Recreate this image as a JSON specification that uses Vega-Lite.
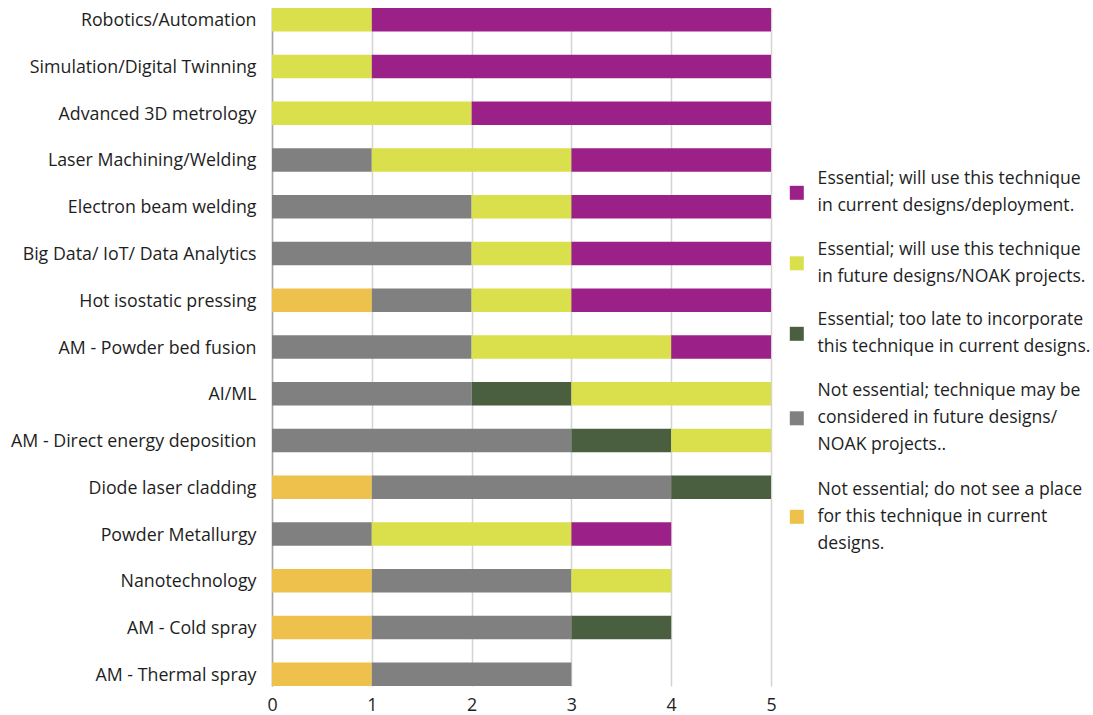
{
  "$schema": "https://vega.github.io/schema/vega-lite/v6.json",
  "width": 499,
  "height": 678,
  "autosize": {"type": "none"},
  "padding": {"left": 272, "top": 8, "right": 322, "bottom": 29},
  "background": "white",
  "config": {
    "view": {"stroke": null},
    "font": "Open Sans",
    "axis": {"labelFont": "Open Sans", "labelColor": "#1e1e1e", "labelFontSize": 17.8},
    "legend": {"labelFont": "Open Sans", "labelColor": "#1e1e1e", "labelFontSize": 17.6},
    "style": {"guide-label": {"lineHeight": 27}}
  },
  "datasets": {
    "responses": [
      {"level": 5, "response": "Essential; will use this technique\nin current designs/deployment."},
      {"level": 4, "response": "Essential; will use this technique\nin future designs/NOAK projects."},
      {"level": 3, "response": "Essential; too late to incorporate\nthis technique in current designs."},
      {"level": 2, "response": "Not essential; technique may be\nconsidered in future designs/\nNOAK projects.."},
      {"level": 1, "response": "Not essential; do not see a place\nfor this technique in current\ndesigns."}
    ],
    "counts": [
      {"technique": "Robotics/Automation", "level": 4, "count": 1},
      {"technique": "Robotics/Automation", "level": 5, "count": 4},
      {"technique": "Simulation/Digital Twinning", "level": 4, "count": 1},
      {"technique": "Simulation/Digital Twinning", "level": 5, "count": 4},
      {"technique": "Advanced 3D metrology", "level": 4, "count": 2},
      {"technique": "Advanced 3D metrology", "level": 5, "count": 3},
      {"technique": "Laser Machining/Welding", "level": 2, "count": 1},
      {"technique": "Laser Machining/Welding", "level": 4, "count": 2},
      {"technique": "Laser Machining/Welding", "level": 5, "count": 2},
      {"technique": "Electron beam welding", "level": 2, "count": 2},
      {"technique": "Electron beam welding", "level": 4, "count": 1},
      {"technique": "Electron beam welding", "level": 5, "count": 2},
      {"technique": "Big Data/ IoT/ Data Analytics", "level": 2, "count": 2},
      {"technique": "Big Data/ IoT/ Data Analytics", "level": 4, "count": 1},
      {"technique": "Big Data/ IoT/ Data Analytics", "level": 5, "count": 2},
      {"technique": "Hot isostatic pressing", "level": 1, "count": 1},
      {"technique": "Hot isostatic pressing", "level": 2, "count": 1},
      {"technique": "Hot isostatic pressing", "level": 4, "count": 1},
      {"technique": "Hot isostatic pressing", "level": 5, "count": 2},
      {"technique": "AM - Powder bed fusion", "level": 2, "count": 2},
      {"technique": "AM - Powder bed fusion", "level": 4, "count": 2},
      {"technique": "AM - Powder bed fusion", "level": 5, "count": 1},
      {"technique": "AI/ML", "level": 2, "count": 2},
      {"technique": "AI/ML", "level": 3, "count": 1},
      {"technique": "AI/ML", "level": 4, "count": 2},
      {"technique": "AM - Direct energy deposition", "level": 2, "count": 3},
      {"technique": "AM - Direct energy deposition", "level": 3, "count": 1},
      {"technique": "AM - Direct energy deposition", "level": 4, "count": 1},
      {"technique": "Diode laser cladding", "level": 1, "count": 1},
      {"technique": "Diode laser cladding", "level": 2, "count": 3},
      {"technique": "Diode laser cladding", "level": 3, "count": 1},
      {"technique": "Powder Metallurgy", "level": 2, "count": 1},
      {"technique": "Powder Metallurgy", "level": 4, "count": 2},
      {"technique": "Powder Metallurgy", "level": 5, "count": 1},
      {"technique": "Nanotechnology", "level": 1, "count": 1},
      {"technique": "Nanotechnology", "level": 2, "count": 2},
      {"technique": "Nanotechnology", "level": 4, "count": 1},
      {"technique": "AM - Cold spray", "level": 1, "count": 1},
      {"technique": "AM - Cold spray", "level": 2, "count": 2},
      {"technique": "AM - Cold spray", "level": 3, "count": 1},
      {"technique": "AM - Thermal spray", "level": 1, "count": 1},
      {"technique": "AM - Thermal spray", "level": 2, "count": 2}
    ]
  },
  "data": {"name": "counts"},
  "transform": [
    {"lookup": "level", "from": {"data": {"name": "responses"}, "key": "level", "fields": ["response"]}}
  ],
  "mark": {"type": "bar"},
  "encoding": {
    "y": {
      "field": "technique",
      "type": "nominal",
      "sort": [
        "Robotics/Automation", "Simulation/Digital Twinning", "Advanced 3D metrology",
        "Laser Machining/Welding", "Electron beam welding", "Big Data/ IoT/ Data Analytics",
        "Hot isostatic pressing", "AM - Powder bed fusion", "AI/ML",
        "AM - Direct energy deposition", "Diode laser cladding", "Powder Metallurgy",
        "Nanotechnology", "AM - Cold spray", "AM - Thermal spray"
      ],
      "scale": {"paddingInner": 0.5, "paddingOuter": 0},
      "axis": {
        "title": null,
        "ticks": false,
        "labelPadding": 16,
        "labelOffset": 1.5,
        "labelLimit": 0,
        "domainColor": "#a6a6a6",
        "domainWidth": 1.5
      }
    },
    "x": {
      "field": "count",
      "type": "quantitative",
      "stack": "zero",
      "scale": {"domain": [0, 5], "nice": false},
      "axis": {
        "title": null,
        "values": [0, 1, 2, 3, 4, 5],
        "format": "d",
        "ticks": false,
        "domain": false,
        "labelFlush": false,
        "gridColor": "#d4d4d4",
        "gridWidth": 1.5,
        "labelPadding": 10
      }
    },
    "color": {
      "field": "response",
      "type": "nominal",
      "scale": {
        "domain": [
          "Essential; will use this technique\nin current designs/deployment.",
          "Essential; will use this technique\nin future designs/NOAK projects.",
          "Essential; too late to incorporate\nthis technique in current designs.",
          "Not essential; technique may be\nconsidered in future designs/\nNOAK projects..",
          "Not essential; do not see a place\nfor this technique in current\ndesigns."
        ],
        "range": ["#9b2189", "#d9e04b", "#4a5f40", "#808080", "#edc14b"]
      },
      "legend": {
        "title": null,
        "orient": "none",
        "legendX": 516,
        "legendY": 176,
        "padding": 0,
        "symbolType": "square",
        "symbolSize": 196,
        "symbolStrokeWidth": 0,
        "symbolOpacity": 1,
        "labelOffset": 12,
        "labelLimit": 0,
        "rowPadding": 25.5,
        "labelExpr": "split(datum.label, '\\n')",
        "encoding": {
          "labels": {
            "dy": {"value": {"expr": "-(length(split(datum.label, '\\n')) - 1) * 13.5"}}
          }
        }
      }
    },
    "order": {"field": "level", "type": "quantitative"}
  }
}
